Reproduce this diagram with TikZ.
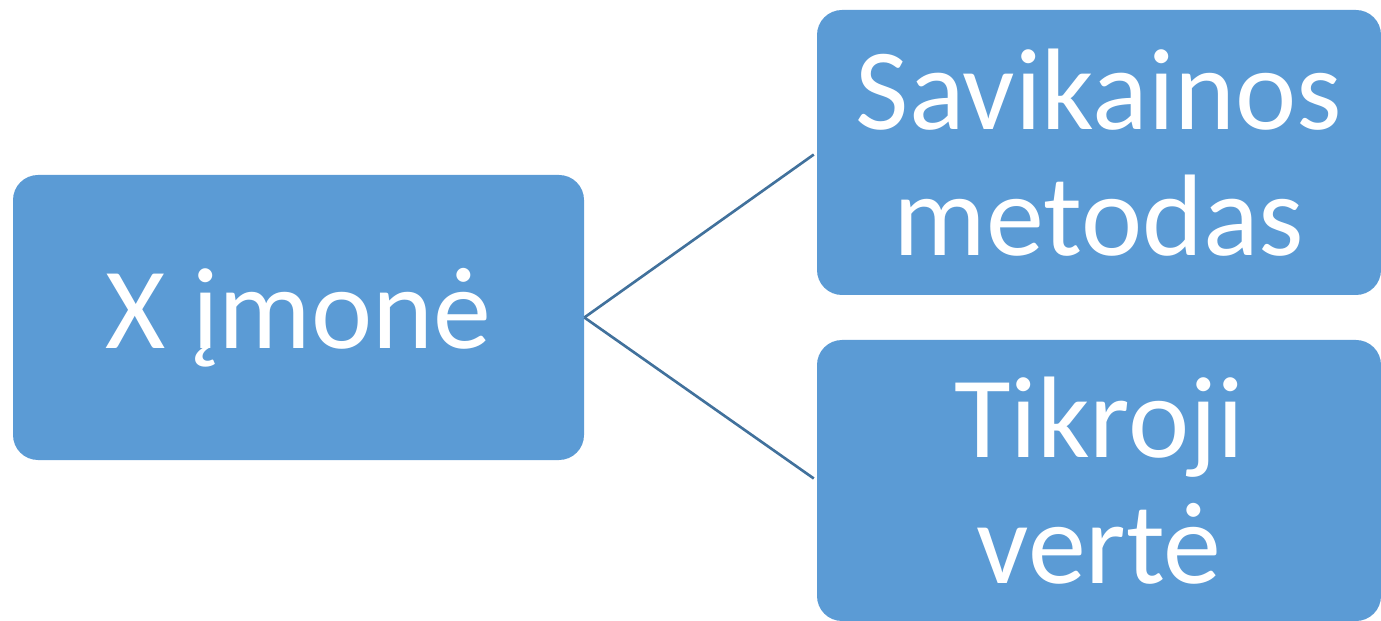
\documentclass[tikz,border=0pt]{standalone}
\usepackage{fontspec}
\setmainfont{Carlito}
\usetikzlibrary{positioning}
\definecolor{boxblue}{HTML}{5B9BD5}
\definecolor{linkblue}{HTML}{41719C}
\tikzstyle{item} = [rectangle, rounded corners=0.5cm, fill=boxblue, text=white, inner sep=0pt, align=center, font=\fontsize{66}{72}\selectfont]
\tikzstyle{link} = [draw=linkblue, line width=1.5pt, shorten >=2pt]

\begin{document}
\begin{tikzpicture}

\useasboundingbox (0,0) rectangle (27.62,-12.42);

\node (firm) [item, minimum width=11.42cm, minimum height=5.7cm] at (5.97,-6.35) {X įmonė};
\node (cost) [item, minimum width=11.28cm, minimum height=5.7cm] at (21.98,-3.05) {Savikainos\\metodas};
\node (fair) [item, minimum width=11.28cm, minimum height=5.62cm] at (21.98,-9.61) {Tikroji\\vertė};

\draw [link] (firm.east) -- (cost.west);
\draw [link] (firm.east) -- (fair.west);

\end{tikzpicture}
\end{document}
